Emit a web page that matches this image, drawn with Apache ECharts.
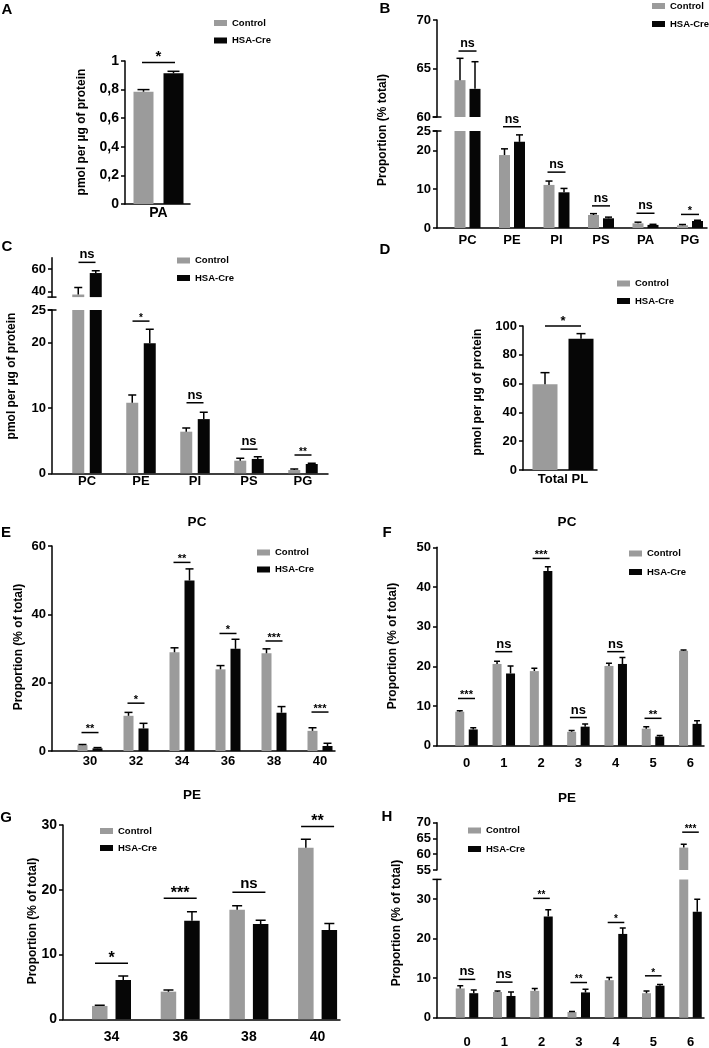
<!DOCTYPE html>
<html><head><meta charset="utf-8">
<script src="https://cdn.jsdelivr.net/npm/echarts@6/dist/echarts.min.js"></script>
<style>html,body{margin:0;padding:0;background:#fff}#c{width:709px;height:1048px}</style>
</head><body><div id="c"></div>
<script>
// ---------------- DATA ----------------
const A_categories = ['PA'];
const A_control = [0.785];
const A_controlSEM = [0.015];
const A_hsa = [0.914];
const A_hsaSEM = [0.014];
const A_sigCat = [0];
const A_sigY = [0.99];
const A_sigLabel = ['*'];
const A_yTicks = [0, 0.2, 0.4, 0.6, 0.8, 1];

const B_categories = ['PC', 'PE', 'PI', 'PS', 'PA', 'PG'];
const B_control = [63.8, 18.8, 11.1, 3.35, 1.2, 0.7];
const B_controlSEM = [2.25, 1.6, 1.0, 0.35, 0.3, 0.2];
const B_hsa = [62.9, 22.2, 9.2, 2.5, 0.8, 1.8];
const B_hsaSEM = [2.8, 1.8, 1.0, 0.3, 0.15, 0.2];
const B_sigCat = [0, 1, 2, 3, 4, 5];
const B_sigY = [66.8, 26.1, 14.4, 5.7, 3.8, 3.5];
const B_sigLabel = ['ns', 'ns', 'ns', 'ns', 'ns', '*'];
const B_lowerTicks = [0, 10, 20, 25];
const B_upperTicks = [60, 65, 70];

const C_categories = ['PC', 'PE', 'PI', 'PS', 'PG'];
const C_control = [37.3, 10.8, 6.37, 1.93, 0.5];
const C_controlSEM = [6.3, 1.2, 0.55, 0.37, 0.16];
const C_hsa = [56.4, 19.9, 8.3, 2.2, 1.42];
const C_hsaSEM = [2.1, 2.15, 1.05, 0.35, 0.1];
const C_sigCat = [0, 1, 2, 3, 4];
const C_sigY = [65.9, 23.3, 10.8, 3.7, 2.8];
const C_sigLabel = ['ns', '*', 'ns', 'ns', '**'];
const C_lowerTicks = [0, 10, 20, 25];
const C_upperTicks = [40, 60];

const D_categories = ['Total PL'];
const D_control = [59.5];
const D_controlSEM = [8.1];
const D_hsa = [91.2];
const D_hsaSEM = [3.5];
const D_sigCat = [0];
const D_sigY = [100];
const D_sigLabel = ['*'];
const D_yTicks = [0, 20, 40, 60, 80, 100];

const E_categories = ['30', '32', '34', '36', '38', '40'];
const E_control = [1.7, 10.3, 28.9, 23.9, 28.6, 5.9];
const E_controlSEM = [0.2, 1.0, 1.3, 1.1, 1.3, 0.9];
const E_hsa = [0.78, 6.6, 49.9, 29.9, 11.2, 1.46];
const E_hsaSEM = [0.22, 1.5, 3.4, 2.8, 1.8, 0.8];
const E_sigCat = [0, 1, 2, 3, 4, 5];
const E_sigY = [5.4, 14.0, 55.2, 34.4, 32.2, 11.4];
const E_sigLabel = ['**', '*', '**', '*', '***', '***'];
const E_yTicks = [0, 20, 40, 60];

const F_categories = ['0', '1', '2', '3', '4', '5', '6'];
const F_control = [8.57, 20.6, 18.8, 3.5, 20.1, 4.3, 23.9];
const F_controlSEM = [0.25, 0.7, 0.7, 0.3, 0.7, 0.5, 0.2];
const F_hsa = [4.1, 18.2, 44.0, 4.8, 20.6, 2.3, 5.5];
const F_hsaSEM = [0.4, 1.9, 1.1, 0.7, 1.6, 0.25, 0.8];
const F_sigCat = [0, 1, 2, 3, 4, 5];
const F_sigY = [11.9, 23.7, 47.2, 7.1, 23.7, 6.9];
const F_sigLabel = ['***', 'ns', '***', 'ns', 'ns', '**'];
const F_yTicks = [0, 10, 20, 30, 40, 50];

const G_categories = ['34', '36', '38', '40'];
const G_control = [2.06, 4.27, 16.9, 26.5];
const G_controlSEM = [0.1, 0.26, 0.65, 1.3];
const G_hsa = [6.07, 15.2, 14.7, 13.8];
const G_hsaSEM = [0.63, 1.4, 0.6, 1.0];
const G_sigCat = [0, 1, 2, 3];
const G_sigY = [8.65, 18.7, 19.6, 29.75];
const G_sigLabel = ['*', '***', 'ns', '**'];
const G_yTicks = [0, 10, 20, 30];

const H_categories = ['0', '1', '2', '3', '4', '5', '6'];
const H_control = [7.4, 6.5, 6.8, 1.43, 9.5, 6.2, 62.1];
const H_controlSEM = [0.7, 0.25, 0.6, 0.17, 0.7, 0.55, 1.1];
const H_hsa = [6.2, 5.5, 25.6, 6.4, 21.2, 8.1, 26.8];
const H_hsaSEM = [0.8, 1.0, 1.7, 0.8, 1.5, 0.3, 3.2];
const H_sigCat = [0, 1, 2, 3, 4, 5, 6];
const H_sigY = [9.7, 9.0, 30.2, 8.9, 24.1, 10.6, 67.0];
const H_sigLabel = ['ns', 'ns', '**', '**', '*', '*', '***'];
const H_lowerTicks = [0, 10, 20, 30];
const H_upperTicks = [55, 60, 65, 70];

// ---------------- STYLE / LAYOUT ----------------
const FONT = '"Liberation Sans", Arial, Helvetica, sans-serif';
const GRAY = '#9b9b9b';
const BLACK = '#060606';
const AX = { color: '#000', width: 1.5 };

const option = {
  animation: false, backgroundColor: '#fff',
  grid: [], xAxis: [], yAxis: [], series: [], legend: [], graphic: []
};

function txt(text, x, y, size, rot) {
  option.graphic.push({
    type: 'text', x: x, y: y, rotation: rot || 0, silent: true,
    style: { text: text, font: 'bold ' + size + 'px ' + FONT, fill: '#000',
      textAlign: 'center', textVerticalAlign: 'middle', align: 'center', verticalAlign: 'middle' }
  });
}

function addPanel(p) {
  const n = p.cats.length;
  const upperMin = p.segments.length > 1 ? p.segments[1].min : Infinity;
  p.segments.forEach(function (seg, si) {
    const lowest = si === 0;
    const h = seg.base - seg.top;
    // frame grid: y axis + baseline
    const gF = option.grid.length;
    option.grid.push({ left: p.axisX, top: seg.top, width: p.axisEnd - p.axisX, height: h, outerBoundsMode: 'none' });
    option.xAxis.push({ gridIndex: gF, type: 'value', min: 0, max: 1,
      axisLine: { show: lowest, lineStyle: AX }, axisTick: { show: false },
      axisLabel: { show: false }, splitLine: { show: false } });
    option.yAxis.push({ gridIndex: gF, type: 'value', min: seg.min, max: seg.max,
      axisLine: { show: true, lineStyle: AX,
        symbol: [seg.capBottom ? 'rect' : 'none', seg.capTop ? 'rect' : 'none'], symbolSize: [9, 1.5] },
      axisTick: { show: true, length: 4, lineStyle: AX, customValues: seg.ticks },
      axisLabel: { customValues: seg.ticks, formatter: p.fmt || function (v) { return String(v); },
        fontSize: p.tickFont, fontWeight: 'bold', fontFamily: FONT, color: '#000', margin: 6 },
      splitLine: { show: false } });
    // bars grid
    const gB = option.grid.length;
    option.grid.push({ left: p.firstCenter - p.spacing / 2, top: seg.top, width: n * p.spacing, height: h, outerBoundsMode: 'none' });
    const xB = option.xAxis.length;
    option.xAxis.push({ gridIndex: gB, type: 'category', data: p.cats,
      axisLine: { show: false }, axisTick: { show: false }, splitLine: { show: false },
      axisLabel: { show: lowest, interval: 0, fontSize: p.catFont, fontWeight: 'bold', fontFamily: FONT,
        color: '#000', margin: p.catMargin } });
    const yB = option.yAxis.length;
    option.yAxis.push({ gridIndex: gB, type: 'value', min: seg.min, max: seg.max, show: false });

    const keep = function (v) { return lowest || v >= seg.min ? v : '-'; };
    option.series.push({ type: 'bar', name: 'Control', xAxisIndex: xB, yAxisIndex: yB,
      data: p.ctrl.map(keep), barWidth: p.barW, barGap: (p.gap / p.barW * 100) + '%',
      itemStyle: { color: GRAY }, clip: true, silent: true, z: 2 });
    option.series.push({ type: 'bar', name: 'HSA-Cre', xAxisIndex: xB, yAxisIndex: yB,
      data: p.hsa.map(keep), barWidth: p.barW, barGap: (p.gap / p.barW * 100) + '%',
      itemStyle: { color: BLACK }, clip: true, silent: true, z: 2 });

    [[p.ctrl, p.ctrlSem, -1], [p.hsa, p.hsaSem, 1]].forEach(function (g) {
      const vals = g[0], sems = g[1], dir = g[2];
      option.series.push({ type: 'custom', xAxisIndex: xB, yAxisIndex: yB, clip: true, silent: true, z: 3,
        data: vals.map(function (v, i) { return [i, v, v + sems[i]]; }),
        renderItem: function (params, api) {
          const b = api.coord([api.value(0), api.value(1)]);
          const t = api.coord([api.value(0), api.value(2)]);
          const x = b[0] + dir * (p.barW + p.gap) / 2;
          const st = { stroke: '#000', lineWidth: 1.5 };
          return { type: 'group', children: [
            { type: 'line', shape: { x1: x, y1: b[1], x2: x, y2: t[1] }, style: st },
            { type: 'line', shape: { x1: x - p.capW / 2, y1: t[1], x2: x + p.capW / 2, y2: t[1] }, style: st }
          ] };
        } });
    });

    const items = p.sigCat.map(function (c, i) { return { c: c, y: p.sigY[i], l: p.sigLbl[i] }; })
      .filter(function (it) { return lowest ? it.y < upperMin : it.y >= seg.min; });
    option.series.push({ type: 'custom', xAxisIndex: xB, yAxisIndex: yB, clip: false, silent: true, z: 4,
      data: items.map(function (it) { return [it.c, it.y]; }),
      renderItem: function (params, api) {
        const it = items[params.dataIndex];
        const q = api.coord([it.c, it.y]);
        const star = it.l !== 'ns';
        return { type: 'group', children: [
          { type: 'line', shape: { x1: q[0] - p.sigHalf, y1: q[1], x2: q[0] + p.sigHalf, y2: q[1] },
            style: { stroke: '#000', lineWidth: 1.5 } },
          { type: 'text', x: q[0], y: q[1] + (star ? p.starDy : -1),
            style: { text: it.l, font: 'bold ' + (star ? p.starFont : p.nsFont) + 'px ' + FONT, fill: '#000',
              textAlign: 'center', textVerticalAlign: 'bottom', align: 'center', verticalAlign: 'bottom' } }
        ] };
      } });
  });

  option.legend.push({ left: p.leg[0], top: p.leg[1], orient: 'vertical', padding: 0, itemGap: p.leg[2],
    itemWidth: 13, itemHeight: 6, icon: 'rect', selectedMode: false,
    textStyle: { fontSize: 9.5, fontWeight: 'bold', fontFamily: FONT, color: '#000', lineHeight: 11 },
    data: ['Control', 'HSA-Cre'] });
  txt(p.letter, p.letterPos[0], p.letterPos[1], 15);
  txt(p.yTitle, p.yTitlePos[0], p.yTitlePos[1], 12, Math.PI / 2);
  if (p.title) txt(p.title, p.titlePos[0], p.titlePos[1], 13.5);
}

addPanel({ cats: A_categories, ctrl: A_control, ctrlSem: A_controlSEM, hsa: A_hsa, hsaSem: A_hsaSEM,
  sigCat: A_sigCat, sigY: A_sigY, sigLbl: A_sigLabel,
  axisX: 125, axisEnd: 190, firstCenter: 158.5, spacing: 60, barW: 20, gap: 10, capW: 12, sigHalf: 16.5,
  segments: [{ min: 0, max: 1, top: 61, base: 204, ticks: A_yTicks }],
  fmt: function (v) { return String(v).replace('.', ','); },
  tickFont: 14, catFont: 14, catMargin: 2, nsFont: 13, starFont: 15, starDy: 2,
  leg: [214, 17.5, 6.5], letter: 'A', letterPos: [7, 10],
  yTitle: 'pmol per µg of protein', yTitlePos: [82, 132] });

addPanel({ cats: B_categories, ctrl: B_control, ctrlSem: B_controlSEM, hsa: B_hsa, hsaSem: B_hsaSEM,
  sigCat: B_sigCat, sigY: B_sigY, sigLbl: B_sigLabel,
  axisX: 437, axisEnd: 707, firstCenter: 467.5, spacing: 44.5, barW: 11, gap: 4, capW: 7, sigHalf: 9,
  segments: [{ min: 0, max: 25, top: 131, base: 228, ticks: B_lowerTicks, capTop: true },
             { min: 60, max: 70, top: 20, base: 117, ticks: B_upperTicks, capBottom: true }],
  tickFont: 13, catFont: 13, catMargin: 6, nsFont: 12.5, starFont: 11, starDy: 2,
  leg: [652, 0.5, 7], letter: 'B', letterPos: [385, 9],
  yTitle: 'Proportion (% total)', yTitlePos: [383, 130] });

addPanel({ cats: C_categories, ctrl: C_control, ctrlSem: C_controlSEM, hsa: C_hsa, hsaSem: C_hsaSEM,
  sigCat: C_sigCat, sigY: C_sigY, sigLbl: C_sigLabel,
  axisX: 52, axisEnd: 328, firstCenter: 87, spacing: 54, barW: 12, gap: 5.5, capW: 8, sigHalf: 8.5,
  segments: [{ min: 0, max: 25, top: 310, base: 473.3, ticks: C_lowerTicks, capTop: true },
             { min: 35, max: 70, top: 257.75, base: 297.1, ticks: C_upperTicks, capBottom: true }],
  tickFont: 13, catFont: 13, catMargin: 2, nsFont: 13, starFont: 10, starDy: 2,
  leg: [177, 255, 6.5], letter: 'C', letterPos: [7, 247],
  yTitle: 'pmol per µg of protein', yTitlePos: [12, 376] });

addPanel({ cats: D_categories, ctrl: D_control, ctrlSem: D_controlSEM, hsa: D_hsa, hsaSem: D_hsaSEM,
  sigCat: D_sigCat, sigY: D_sigY, sigLbl: D_sigLabel,
  axisX: 523, axisEnd: 597, firstCenter: 563, spacing: 70, barW: 25, gap: 11, capW: 9, sigHalf: 18,
  segments: [{ min: 0, max: 100, top: 326, base: 470, ticks: D_yTicks }],
  tickFont: 13, catFont: 13, catMargin: 3, nsFont: 13, starFont: 13, starDy: 2,
  leg: [617, 278, 6.5], letter: 'D', letterPos: [385, 250],
  yTitle: 'pmol per µg of protein', yTitlePos: [478, 392] });

addPanel({ cats: E_categories, ctrl: E_control, ctrlSem: E_controlSEM, hsa: E_hsa, hsaSem: E_hsaSEM,
  sigCat: E_sigCat, sigY: E_sigY, sigLbl: E_sigLabel,
  axisX: 52, axisEnd: 335, firstCenter: 90, spacing: 46, barW: 10, gap: 5, capW: 8, sigHalf: 8.5,
  segments: [{ min: 0, max: 60, top: 546, base: 751, ticks: E_yTicks }],
  tickFont: 13, catFont: 13, catMargin: 4, nsFont: 12.5, starFont: 11, starDy: 2,
  leg: [257, 547, 6], letter: 'E', letterPos: [6, 532.5],
  yTitle: 'Proportion (% of total)', yTitlePos: [19, 647], title: 'PC', titlePos: [197, 522] });

addPanel({ cats: F_categories, ctrl: F_control, ctrlSem: F_controlSEM, hsa: F_hsa, hsaSem: F_hsaSEM,
  sigCat: F_sigCat, sigY: F_sigY, sigLbl: F_sigLabel,
  axisX: 437, axisEnd: 704, firstCenter: 466.5, spacing: 37.3, barW: 9, gap: 4.5, capW: 6, sigHalf: 8.5,
  segments: [{ min: 0, max: 50, top: 547.3, base: 745.7, ticks: F_yTicks }],
  tickFont: 13, catFont: 13, catMargin: 11, nsFont: 13, starFont: 11, starDy: 2,
  leg: [629, 548, 7.5], letter: 'F', letterPos: [387, 532.5],
  yTitle: 'Proportion (% of total)', yTitlePos: [393, 646], title: 'PC', titlePos: [567, 522] });

addPanel({ cats: G_categories, ctrl: G_control, ctrlSem: G_controlSEM, hsa: G_hsa, hsaSem: G_hsaSEM,
  sigCat: G_sigCat, sigY: G_sigY, sigLbl: G_sigLabel,
  axisX: 63, axisEnd: 340, firstCenter: 111.5, spacing: 68.7, barW: 15.5, gap: 8, capW: 10, sigHalf: 16.5,
  segments: [{ min: 0, max: 30, top: 825, base: 1019.3, ticks: G_yTicks }],
  tickFont: 14, catFont: 14, catMargin: 11, nsFont: 15, starFont: 16, starDy: 3,
  leg: [100, 825.5, 6], letter: 'G', letterPos: [6, 817.5],
  yTitle: 'Proportion (% of total)', yTitlePos: [33, 921], title: 'PE', titlePos: [192, 795] });

addPanel({ cats: H_categories, ctrl: H_control, ctrlSem: H_controlSEM, hsa: H_hsa, hsaSem: H_hsaSEM,
  sigCat: H_sigCat, sigY: H_sigY, sigLbl: H_sigLabel,
  axisX: 437, axisEnd: 704, firstCenter: 467, spacing: 37.25, barW: 9, gap: 4.5, capW: 6, sigHalf: 8.3,
  segments: [{ min: 0, max: 35, top: 879.4, base: 1017.7, ticks: H_lowerTicks, capTop: true },
             { min: 55, max: 70, top: 822.7, base: 870, ticks: H_upperTicks }],
  tickFont: 13, catFont: 13, catMargin: 18, nsFont: 13, starFont: 10, starDy: 2,
  leg: [468, 825, 7.5], letter: 'H', letterPos: [387, 817],
  yTitle: 'Proportion (% of total)', yTitlePos: [397, 923], title: 'PE', titlePos: [567, 798] });

const chart = echarts.init(document.getElementById('c'), null, { renderer: 'canvas' });
chart.setOption(option);
</script>
</body></html>
